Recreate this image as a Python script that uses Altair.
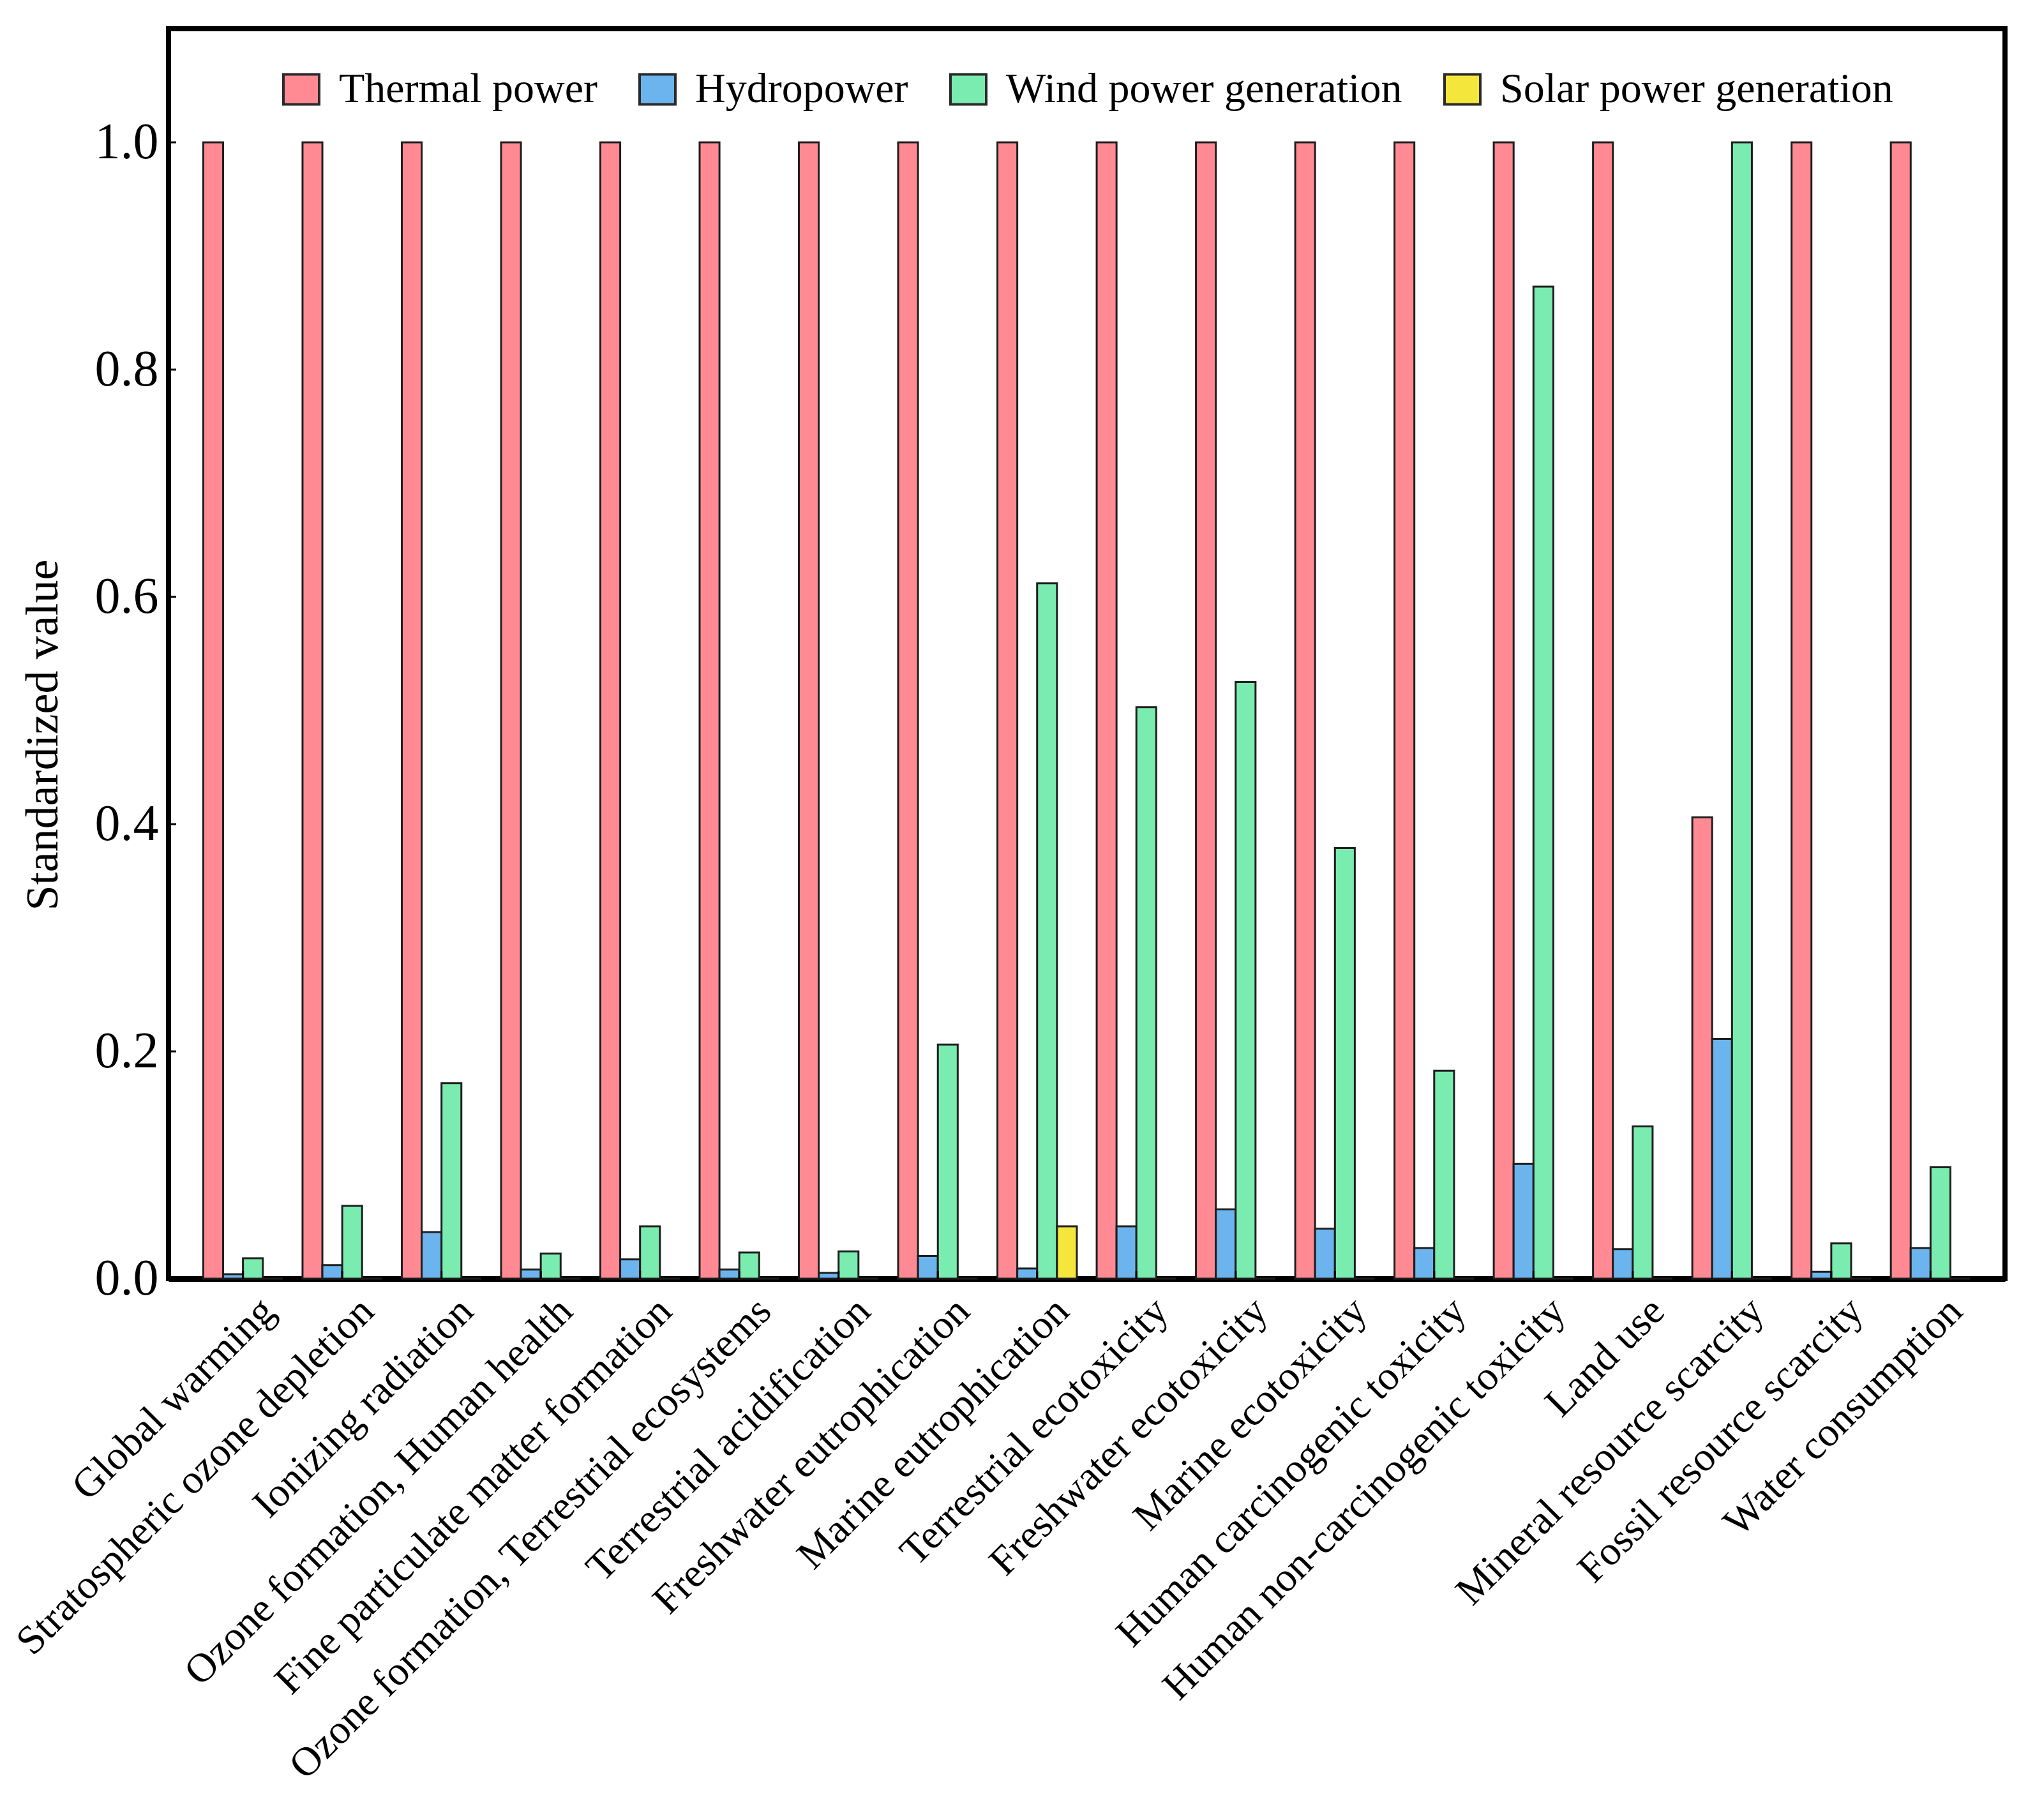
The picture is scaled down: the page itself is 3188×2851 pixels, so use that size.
import altair as alt
import pandas as pd

categories = [
    "Global warming",
    "Stratospheric ozone depletion",
    "Ionizing radiation",
    "Ozone formation, Human health",
    "Fine particulate matter formation",
    "Ozone formation, Terrestrial ecosystems",
    "Terrestrial acidification",
    "Freshwater eutrophication",
    "Marine eutrophication",
    "Terrestrial ecotoxicity",
    "Freshwater ecotoxicity",
    "Marine ecotoxicity",
    "Human carcinogenic toxicity",
    "Human non-carcinogenic toxicity",
    "Land use",
    "Mineral resource scarcity",
    "Fossil resource scarcity",
    "Water consumption",
]

series = ["Thermal power", "Hydropower", "Wind power generation", "Solar power generation"]
colors = ["#FF8A94", "#6CB4EE", "#7BECB0", "#F5E63C"]

thermal = [1.0, 1.0, 1.0, 1.0, 1.0, 1.0, 1.0, 1.0, 1.0, 1.0, 1.0, 1.0, 1.0, 1.0, 1.0, 0.406, 1.0, 1.0]
hydro = [0.004, 0.012, 0.041, 0.008, 0.017, 0.008, 0.005, 0.020, 0.009, 0.046, 0.061, 0.044,
         0.027, 0.101, 0.026, 0.211, 0.006, 0.027]
wind = [0.018, 0.064, 0.172, 0.022, 0.046, 0.023, 0.024, 0.206, 0.612, 0.503, 0.525, 0.379,
        0.183, 0.873, 0.134, 1.0, 0.031, 0.098]
solar = [0.0, 0.0, 0.0, 0.0, 0.0, 0.0, 0.0, 0.0, 0.046, 0.0, 0.0, 0.0,
         0.0, 0.0, 0.0, 0.0, 0.0, 0.0]

y_ticks = [0.0, 0.2, 0.4, 0.6, 0.8, 1.0]

rows = []
for name, vals in zip(series, [thermal, hydro, wind, solar]):
    for c, v in zip(categories, vals):
        rows.append({"Category": c, "Source": name, "Value": v})
df = pd.DataFrame(rows)

FONT = "Liberation Serif"
W, H = 2877, 1958

x_axis = alt.Axis(
    title=None, labelAngle=-45, labelAlign="right", labelBaseline="top",
    labelFont=FONT, labelFontSize=64, labelColor="black", labelPadding=18,
    labelOffset=17, labelLimit=3000, labelOverlap=False, labelFlush=False,
    ticks=False, tickSize=0, domain=True, domainColor="black", domainWidth=9,
    grid=False,
)
y_axis = alt.Axis(
    title="Standardized value", values=y_ticks, format=".1f",
    labelFont=FONT, labelFontSize=80, labelColor="black", labelPadding=16,
    ticks=False, tickSize=0, domain=False, grid=False,
    titleFont=FONT, titleFontSize=72, titleFontWeight="normal", titleColor="black",
    titleAngle=-90, titleX=-197, titleY=1106, titleAlign="center", titleBaseline="middle",
)

x_scale = alt.Scale(paddingInner=0.2, paddingOuter=0.35)
y_scale = alt.Scale(domain=[0, 1.1], nice=False)


def xenc():
    return alt.X("Category:N", sort=categories, scale=x_scale, axis=x_axis)


def yenc():
    return alt.Y("Value:Q", scale=y_scale, axis=y_axis)


bars = alt.Chart(df).mark_bar(stroke="#1e1e1e", strokeWidth=3, opacity=1).encode(
    x=xenc(),
    xOffset=alt.XOffset("Source:N", sort=series, scale=alt.Scale(paddingInner=0, paddingOuter=0)),
    y=yenc(),
    color=alt.Color(
        "Source:N",
        sort=series,
        scale=alt.Scale(domain=series, range=colors),
        legend=alt.Legend(
            title=None, orient="none", direction="horizontal",
            legendX=175, legendY=62,
            symbolType="M-1,-0.84H1V0.84H-1Z", symbolSize=3136,
            symbolStrokeColor="#2a2a2a", symbolStrokeWidth=4, symbolOpacity=1,
            labelFont=FONT, labelFontSize=66, labelColor="black",
            labelOffset=26, columnPadding=58, labelLimit=2000,
        ),
    ),
)

xtick_df = pd.DataFrame({"Category": categories})
xticks = alt.Chart(xtick_df).mark_rule(color="black", strokeWidth=3).encode(
    x=xenc(),
    y=alt.value(H),
    y2=alt.value(H - 12),
)

ytick_df = pd.DataFrame({"Value": y_ticks})
yticks = alt.Chart(ytick_df).mark_rule(color="black", strokeWidth=3).encode(
    y=yenc(),
    x=alt.value(0),
    x2=alt.value(12),
)

chart = alt.layer(bars, xticks, yticks).properties(
    width=W,
    height=H,
    autosize=alt.AutoSizeParams(type="none"),
    padding={"left": 256, "top": 37, "right": 39, "bottom": 840},
    background="white",
).configure_view(
    stroke="black", strokeWidth=8
)

chart.save("out.html", embed_options={"renderer": "svg", "actions": False})
